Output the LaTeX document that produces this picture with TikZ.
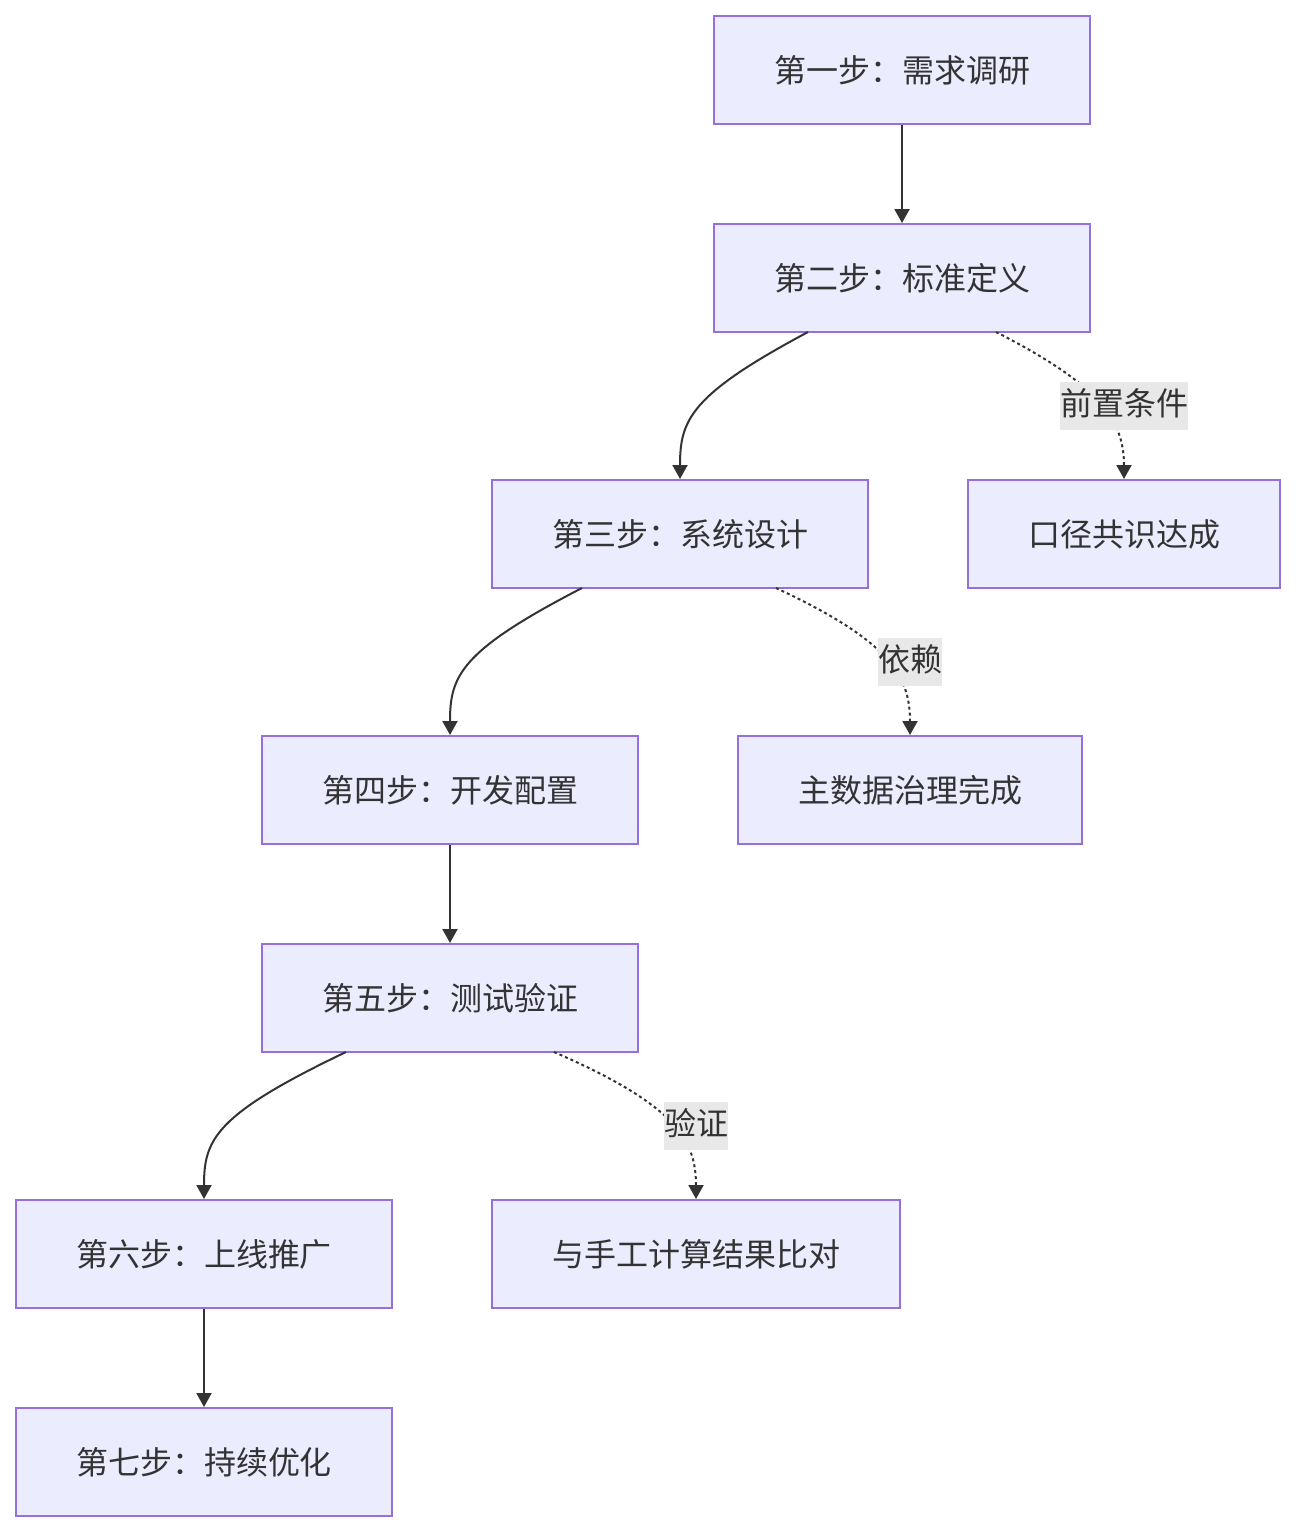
\documentclass[tikz,border=0pt]{standalone}
\usepackage{fontspec}
\newfontfamily\cjk{Noto Sans CJK SC}
\usetikzlibrary{arrows.meta}
\definecolor{nodefill}{HTML}{ECECFF}
\definecolor{nodeline}{HTML}{9370DB}
\definecolor{edgecol}{HTML}{333333}
\definecolor{lblbg}{HTML}{E8E8E8}
\begin{document}
\begin{tikzpicture}[x=1pt,y=-1pt,
  box/.style={draw=nodeline,fill=nodefill,line width=2pt,minimum height=108pt,inner sep=0pt,
    font=\cjk\fontsize{32}{38}\selectfont,text=edgecol},
  lbl/.style={fill=lblbg,inner xsep=0pt,inner ysep=0pt,minimum height=48pt,text height=24pt,text depth=6pt,
    font=\cjk\fontsize{32}{38}\selectfont,text=edgecol},
  arr/.style={draw=edgecol,line width=2pt,-{Triangle[width=15pt,length=14pt]}},
  darr/.style={arr,dash pattern=on 3pt off 3pt}
]
\useasboundingbox (0,0) rectangle (1296,1532);
\node[box,minimum width=376pt] (n1) at (902,70) {第一步：需求调研};
\node[box,minimum width=376pt] (n2) at (902,278) {第二步：标准定义};
\node[box,minimum width=376pt] (n3) at (680,534) {第三步：系统设计};
\node[box,minimum width=312pt] (k) at (1124,534) {口径共识达成};
\node[box,minimum width=376pt] (n4) at (450,790) {第四步：开发配置};
\node[box,minimum width=344pt] (m) at (910,790) {主数据治理完成};
\node[box,minimum width=376pt] (n5) at (450,998) {第五步：测试验证};
\node[box,minimum width=376pt] (n6) at (204,1254) {第六步：上线推广};
\node[box,minimum width=408pt] (v) at (696,1254) {与手工计算结果比对};
\node[box,minimum width=376pt] (n7) at (204,1462) {第七步：持续优化};

\coordinate (s2a) at (808,332);
\coordinate (s2b) at (996,332);
\coordinate (s3a) at (582,588);
\coordinate (s3b) at (776,588);
\coordinate (s5a) at (346,1052);
\coordinate (s5b) at (554,1052);

\draw[arr] (n1.south) -- (n2.north);
\draw[arr] (s2a) .. controls (690,395) and (680,420) .. (n3.north);
\draw[darr] (s2b) .. controls (1100,385) and (1124,420) .. (k.north);
\draw[arr] (s3a) .. controls (460,651) and (450,676) .. (n4.north);
\draw[darr] (s3b) .. controls (890,641) and (910,676) .. (m.north);
\draw[arr] (n4.south) -- (n5.north);
\draw[arr] (s5a) .. controls (214,1115) and (204,1140) .. (n6.north);
\draw[darr] (s5b) .. controls (676,1105) and (696,1140) .. (v.north);
\draw[arr] (n6.south) -- (n7.north);

\node[lbl] (l1) at (1124,406) {前置条件};
\node[lbl] (l2) at (910,662) {依赖};
\node[lbl] (l3) at (696,1126) {验证};
\end{tikzpicture}
\end{document}
